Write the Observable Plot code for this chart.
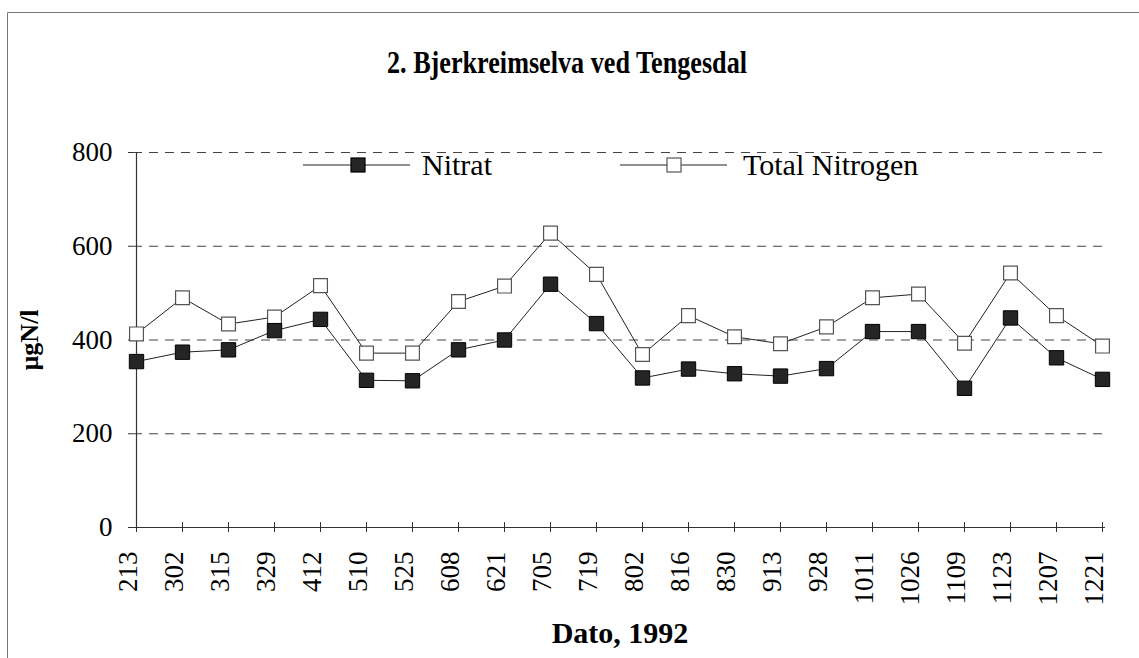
<!DOCTYPE html>
<html>
<head>
<meta charset="utf-8">
<script src="https://cdn.jsdelivr.net/npm/d3@7"></script>
<script src="https://cdn.jsdelivr.net/npm/@observablehq/plot@0.6"></script>
<style>
  html, body { margin: 0; padding: 0; background: #fff; }
  #chart { width: 1139px; height: 658px; }
  #chart svg, #chart svg text { font-family: "Liberation Serif", "Times New Roman", Times, serif; }
</style>
</head>
<body>
<div id="chart"></div>
<script>
// ---- data ----
const dates = ["213","302","315","329","412","510","525","608","621","705","719",
               "802","816","830","913","928","1011","1026","1109","1123","1207","1221"];
const nitrat = [354,374,379,420,444,314,313,379,400,519,435,
                319,338,328,323,339,418,418,297,447,362,316];
const totalN = [413,490,434,449,516,372,372,482,515,628,540,
                369,452,407,392,428,490,498,393,543,452,387];
const yTicks = [0,200,400,600,800];
const gridValues = [200,400,600,800];
const seriesNames = ["Nitrat","Total Nitrogen"];
const titleText = "2. Bjerkreimselva ved Tengesdal";
const xTitle = "Dato, 1992";
const yTitle = "µgN/l";

const nitratData = dates.map((d,i) => ({date:d, value:nitrat[i]}));
const totalData = dates.map((d,i) => ({date:d, value:totalN[i]}));

const W = 1139, H = 658;
const font = "Liberation Serif, Times New Roman, serif";

const plot = Plot.plot({
  width: W, height: H,
  marginLeft: 133, marginRight: 34, marginTop: 152, marginBottom: 131,
  style: {fontFamily: font, background: "white", color: "#000", overflow: "visible"},
  x: {type: "point", domain: dates, padding: 0},
  y: {domain: [0, 800]},
  marks: [
    Plot.ruleY(gridValues, {stroke: "#444", strokeWidth: 1, strokeDasharray: "9,7"}),
    Plot.ruleY([0], {stroke: "#333", strokeWidth: 1.2}),
    Plot.ruleX([dates[0]], {y1: 0, y2: 800, stroke: "#333", strokeWidth: 1.2}),
    Plot.axisY({ticks: yTicks, tickSize: 5, tickPadding: 16, fontSize: 27, label: null, stroke: "#333"}),
    Plot.axisX({tickSize: 10, dy: -5, tickFormat: () => "", label: null, stroke: "#333"}),
    Plot.axisX({tickSize: 0, tickRotate: -90, tickPadding: 24, dx: -8, fontSize: 27, label: null}),
    Plot.line(totalData, {x: "date", y: "value", stroke: "#222", strokeWidth: 1}),
    Plot.line(nitratData, {x: "date", y: "value", stroke: "#222", strokeWidth: 1}),
    Plot.dot(totalData, {x: "date", y: "value", symbol: "square", r: 7.8, fill: "white", stroke: "#555", strokeWidth: 1.2}),
    Plot.dot(nitratData, {x: "date", y: "value", symbol: "square", r: 8.1, fill: "#252525", stroke: "#000", strokeWidth: 1})
  ]
});

const svg = d3.select(plot);

// frame border (left and top)
svg.append("line").attr("x1", 7.5).attr("x2", 7.5).attr("y1", 12.5).attr("y2", H).attr("stroke", "#777");
svg.append("line").attr("x1", 7.5).attr("x2", W).attr("y1", 12.5).attr("y2", 12.5).attr("stroke", "#777");

// title
svg.append("text").attr("x", 567).attr("y", 73).attr("text-anchor", "middle")
  .attr("font-weight", "bold").attr("font-size", 31)
  .attr("textLength", 360).attr("lengthAdjust", "spacingAndGlyphs")
  .attr("fill", "#000").text(titleText);

// y title
svg.append("text").attr("transform", "translate(38,340) rotate(-90)")
  .attr("text-anchor", "middle").attr("font-weight", "bold")
  .attr("font-size", 26).attr("fill", "#000").text(yTitle);

// x title
svg.append("text").attr("x", 620).attr("y", 643).attr("text-anchor", "middle")
  .attr("font-weight", "bold").attr("font-size", 30)
  .attr("fill", "#000").text(xTitle);

// legend
const legendItems = [
  {name: seriesNames[0], x1: 303, x2: 410, cx: 358, tx: 422, fill: "#252525", stroke: "#000"},
  {name: seriesNames[1], x1: 620, x2: 727, cx: 674, tx: 743, fill: "white", stroke: "#555"}
];
const ly = 165;
legendItems.forEach(it => {
  svg.append("line").attr("x1", it.x1).attr("x2", it.x2).attr("y1", ly).attr("y2", ly)
    .attr("stroke", "#222").attr("stroke-width", 1);
  svg.append("rect").attr("x", it.cx - 7).attr("y", ly - 7).attr("width", 14).attr("height", 14)
    .attr("fill", it.fill).attr("stroke", it.stroke).attr("stroke-width", 1.2);
  svg.append("text").attr("x", it.tx).attr("y", ly + 10).attr("text-anchor", "start")
    .attr("font-size", 30).attr("fill", "#000").text(it.name);
});

document.getElementById("chart").appendChild(plot);
</script>
</body>
</html>
